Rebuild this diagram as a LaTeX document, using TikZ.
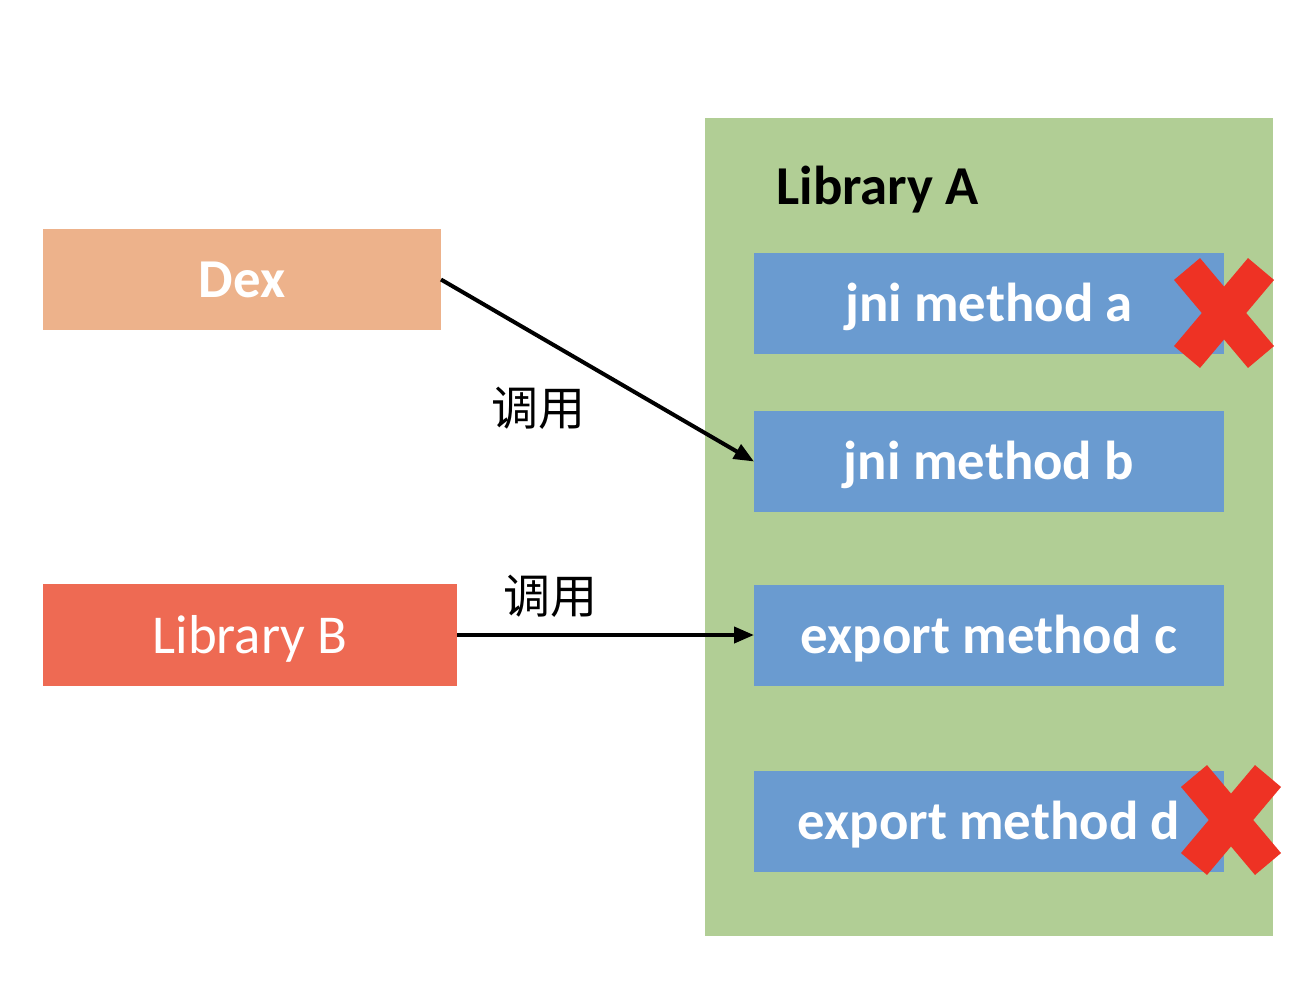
\documentclass[tikz,border=0pt]{standalone}
\usepackage{fontspec}
\setmainfont{Carlito}
\newfontfamily\cjk{Noto Sans CJK SC}
\usetikzlibrary{arrows.meta}
\definecolor{gbg}{RGB}{177,206,149}
\definecolor{mblue}{RGB}{106,155,208}
\definecolor{dexc}{RGB}{237,178,139}
\definecolor{libbc}{RGB}{238,106,83}
\definecolor{xred}{RGB}{238,50,36}
\begin{document}
\begin{tikzpicture}[x=0.5pt,y=-0.5pt,
  box/.style={inner sep=0pt,outer sep=0pt,text=white,font=\fontsize{27.4}{30}\selectfont,text height=18pt,text depth=0pt},
  mbox/.style={box,fill=mblue,minimum width=235pt,minimum height=50.5pt,font=\fontsize{27.4}{30}\selectfont\bfseries},
  callarrow/.style={line width=2pt,-{Triangle[length=10pt,width=8pt]}},
  calllabel/.style={font=\cjk\fontsize{23.5}{26}\selectfont,inner sep=0pt},
  xmark/.style={draw=xred,line width=17pt,line cap=butt}]
\useasboundingbox (0,0) rectangle (1312,992);
\node[fill=gbg,inner sep=0pt,minimum width=284pt,minimum height=409pt] (libA) at (989,527) {};
\node[anchor=base west,inner sep=0pt,font=\fontsize{27.4}{30}\selectfont\bfseries] (libAt) at (776,204) {Library A};
\node[box,fill=dexc,minimum width=199pt,minimum height=50.5pt,font=\fontsize{27.4}{30}\selectfont\bfseries] (dex) at (242,279.5) {Dex};
\node[box,fill=libbc,minimum width=207pt,minimum height=51pt] (libB) at (250,635) {Library B};
\node[mbox] (ja) at (989,303.5) {jni method a};
\node[mbox] (jb) at (989,461.5) {jni method b};
\node[mbox] (ec) at (989,635) {export method c};
\node[mbox] (ed) at (989,821) {export method d};
\draw[callarrow] (dex.east) -- (jb.west);
\draw[callarrow] (libB.east) -- (ec.west);
\node[calllabel] (l1) at (538,408) {调用};
\node[calllabel] (l2) at (550,596) {调用};
\coordinate (xa) at (1224,313);
\coordinate (xd) at (1231,820);
\draw[xmark] ([shift={(-37,-44)}]xa) -- ([shift={(37,44)}]xa);
\draw[xmark] ([shift={(37,-44)}]xa) -- ([shift={(-37,44)}]xa);
\draw[xmark] ([shift={(-37,-44)}]xd) -- ([shift={(37,44)}]xd);
\draw[xmark] ([shift={(37,-44)}]xd) -- ([shift={(-37,44)}]xd);
\end{tikzpicture}
\end{document}
